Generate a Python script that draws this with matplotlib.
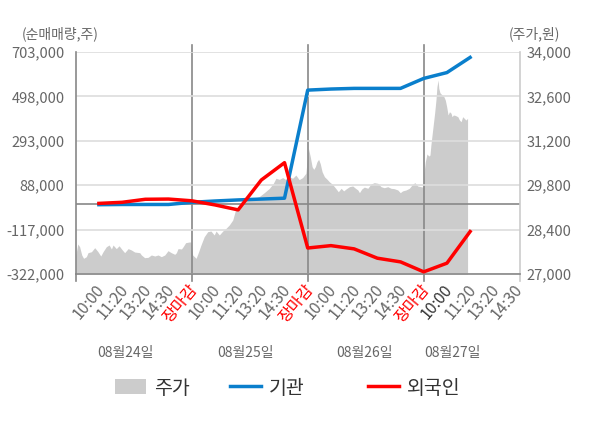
import matplotlib
matplotlib.use("Agg")
import matplotlib.pyplot as plt
import matplotlib.transforms as mtransforms
from matplotlib.patches import Patch
from matplotlib.lines import Line2D

plt.rcParams['font.family'] = ['Noto Sans CJK KR', 'DejaVu Sans']

# libellés de l'axe x (4 jours)
tick_labels = ['10:00', '11:20', '13:20', '14:30', '장마감',
               '10:00', '11:20', '13:20', '14:30', '장마감',
               '10:00', '11:20', '13:20', '14:30', '장마감',
               '10:00', '11:20', '13:20', '14:30']
day_labels = ['08월24일', '08월25일', '08월26일', '08월27일']

# ticks gauche / droite
vol_ticks = [-322000, -117000, 88000, 293000, 498000, 703000]
price_ticks = [27000, 28400, 29800, 31200, 32600, 34000]

# 기관 / 외국인 : points aux positions 1..17
flow_t = list(range(1, 18))
inst = [-2000, -1000, -1000, -1000, 9000, 15000, 20000, 24000, 28000,
        527000, 532000, 535000, 535000, 535000, 581000, 608000, 678000]
foreign = [4000, 9000, 23000, 24000, 16000, -3000, -26000, 112000, 192000,
           -202000, -191000, -206000, -249000, -266000, -312000, -272000, -126000]

# 주가
price_t = [0, 0.09, 0.17, 0.26, 0.34, 0.46, 0.53, 0.68, 0.82, 0.96, 1.08, 1.18,
           1.32, 1.44, 1.54, 1.61, 1.75, 1.87, 2.01, 2.11, 2.26, 2.40, 2.54, 2.76,
           2.83, 2.97, 3.12, 3.26, 3.41, 3.55, 3.69, 3.84, 3.98, 4.12, 4.27, 4.34,
           4.41, 4.56, 4.63, 4.74, 4.89, 4.97,
           5.04, 5.19, 5.30, 5.40, 5.54, 5.69, 5.83, 5.97, 6.05, 6.19, 6.34, 6.48,
           6.62, 6.77, 6.88, 6.98, 7.13, 7.27, 7.48, 7.70, 7.91, 8.13, 8.35, 8.52,
           8.63, 8.78, 8.92, 9.06, 9.20, 9.35, 9.49, 9.63, 9.78, 9.92,
           10.03, 10.11, 10.19, 10.26, 10.33, 10.40, 10.47, 10.54, 10.62, 10.72,
           10.83, 10.93, 11.05, 11.15, 11.26, 11.32, 11.44, 11.55, 11.65, 11.80,
           11.94, 12.06, 12.16, 12.23, 12.33, 12.44, 12.59, 12.73, 12.87, 13.02,
           13.16, 13.30, 13.45, 13.59, 13.73, 13.88, 13.99, 14.09, 14.24, 14.38,
           14.52, 14.62, 14.74, 14.88, 14.97,
           15.01, 15.07, 15.14, 15.22, 15.27, 15.31, 15.36, 15.41, 15.47, 15.53,
           15.57, 15.62, 15.65, 15.70, 15.79, 15.87, 15.93, 15.99, 16.05, 16.11,
           16.18, 16.22, 16.28, 16.36, 16.47, 16.54, 16.61, 16.68, 16.75, 16.82,
           16.89]
price = [27567, 27946, 27860, 27600, 27494, 27546, 27672, 27703, 27830, 27703, 27567, 27703,
         27860, 27914, 27790, 27914, 27800, 27890, 27757, 27672, 27800, 27757, 27693, 27672,
         27600, 27515, 27525, 27600, 27567, 27600, 27546, 27600, 27735, 27672, 27620, 27672,
         27800, 27790, 27860, 27988, 28008, 28010,
         27600, 27494, 27703, 27914, 28176, 28334, 28355, 28230, 28355, 28230, 28355, 28440,
         28545, 28703, 28996, 29070, 29175, 29280, 29355, 29387, 29440, 29565, 29702, 29860,
         30018, 29985, 30040, 29975, 30070, 30018, 30120, 29975, 30040, 30175,
         30963, 30700, 30383, 30300, 30383, 30541, 30616, 30480, 30226, 30068,
         29990, 29910, 29838, 29753, 29650, 29594, 29702, 29620, 29680, 29753,
         29775, 29702, 29650, 29565, 29680, 29740, 29702, 29838, 29880, 29860,
         29753, 29720, 29753, 29702, 29690, 29650, 29565, 29620, 29650, 29702,
         29828, 29880, 29775, 29753, 29740,
         30175, 30541, 30784, 30720, 30750, 31067, 31383, 31698, 32067, 32508,
         32906, 33117, 32855, 32716, 32644, 32590, 32486, 32275, 32013, 32118,
         32067, 31960, 32013, 32000, 31960, 31855, 31802, 31960, 31907, 31855,
         31907]

gris_txt = '#666666'
bleu = '#0a7fcc'
rouge = '#ff0000'

fig = plt.figure(figsize=(6, 4.28), dpi=100)
rect = [75.7 / 600, 1 - 274 / 428, (520 - 75.7) / 600, 222 / 428]
ax = fig.add_axes(rect)
ax2 = ax.twinx()
ax.set_zorder(ax2.get_zorder() + 1)
ax.patch.set_visible(False)
ax2.patch.set_facecolor('#f4f4f4')

# aire du cours
ax2.fill_between(price_t, price, price_ticks[0], color='#cccccc', lw=0)
ax2.set_ylim(price_ticks[0], price_ticks[-1])
ax2.set_yticks(price_ticks)
ax2.set_yticklabels([f'{v:,}' for v in price_ticks])
ax2.tick_params(axis='y', length=0, pad=4.5, labelcolor=gris_txt, labelsize=10.5)
for s in ax2.spines.values():
    s.set_visible(False)

# lignes des flux
ax.set_ylim(vol_ticks[0], vol_ticks[-1])
ax.set_xlim(0, 19.15)
ax.set_yticks(vol_ticks)
ax.set_yticklabels([f'{v:,}' for v in vol_ticks])
ax.yaxis.grid(True, color='#dddddd', lw=1.2)
ax.axhline(0, color='#888888', lw=1.2, zorder=1)
for b in [5, 10, 15]:
    ax.axvline(b, ymin=-0.03, ymax=1.03, color='#888888', lw=1.2, clip_on=False, zorder=1)
ax.axvline(0, ymin=-0.03, ymax=0, color='#888888', lw=1.2, clip_on=False)
ax.axvline(19.15, ymin=-0.03, ymax=0, color='#cccccc', lw=1.2, clip_on=False)
ax.plot(flow_t, inst, color=bleu, lw=2.5, zorder=3)
ax.plot(flow_t, foreign, color=rouge, lw=2.5, zorder=4)

ax.spines['top'].set_visible(False)
ax.spines['left'].set_color('#888888')
ax.spines['bottom'].set_color('#888888')
ax.spines['right'].set_color('#cccccc')
for s in ax.spines.values():
    s.set_linewidth(1.2)
ax.tick_params(axis='y', length=0, pad=8, labelcolor=gris_txt, labelsize=10.5)

ax.set_xticks(range(1, 20))
ax.set_xticklabels(tick_labels)
ax.tick_params(axis='x', length=0, pad=9, labelsize=11.5)
decal = mtransforms.ScaledTranslation(3 / 100, 0, fig.dpi_scale_trans)
for i, lab in enumerate(ax.get_xticklabels()):
    lab.set_rotation(50)
    lab.set_rotation_mode('anchor')
    lab.set_ha('right')
    lab.set_va('center')
    lab.set_transform(lab.get_transform() + decal)
    if tick_labels[i] == '장마감':
        lab.set_color(rouge)
    elif i == 15:
        lab.set_color('#333333')
    else:
        lab.set_color(gris_txt)

# dates
for lab, px in zip(day_labels, [125, 245, 365, 452]):
    fig.text(px / 600, 1 - 353 / 428, lab, ha='center', va='center',
             fontsize=10, color=gris_txt)

fig.text(22 / 600, 1 - 34 / 428, '(순매매량,주)', ha='left', va='center',
         fontsize=10, color=gris_txt)
fig.text(509 / 600, 1 - 34 / 428, '(주가,원)', ha='left', va='center',
         fontsize=10, color=gris_txt)

# légende
items = [(Patch(facecolor='#cccccc', edgecolor='none'), '주가', 115),
         (Line2D([], [], color=bleu, lw=2.5), '기관', 230),
         (Line2D([], [], color=rouge, lw=2.5), '외국인', 368)]
for h, txt, px in items:
    fig.legend(handles=[h], labels=[txt], loc='center left',
               bbox_to_anchor=(px / 600, 1 - 388 / 428), frameon=False,
               borderpad=0, borderaxespad=0, handlelength=1.6, handleheight=0.8,
               handletextpad=0.4, fontsize=14, labelcolor='#333333')

fig.savefig('out.png', dpi=100)
